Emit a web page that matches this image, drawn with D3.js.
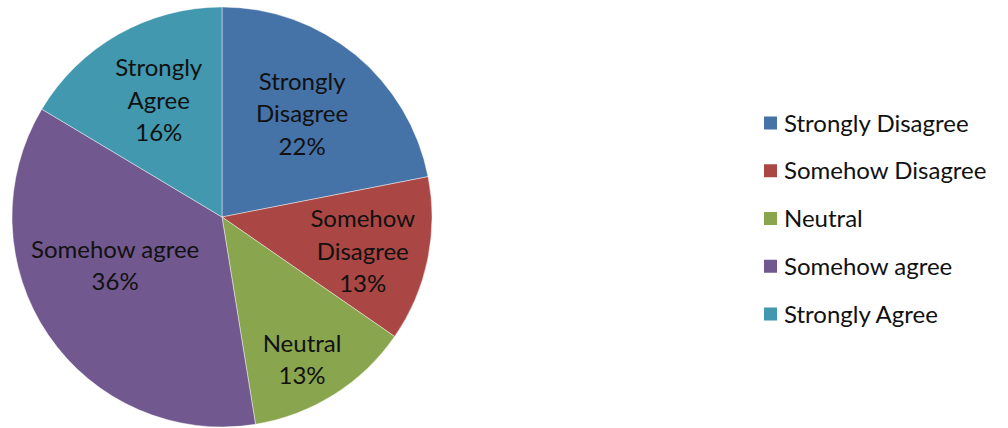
<!DOCTYPE html>
<html><head><meta charset="utf-8">
<script src="https://cdn.jsdelivr.net/npm/d3@7"></script>
<style>html,body{margin:0;padding:0;background:#fff;}svg{display:block;}</style>
</head><body>
<svg id="chart" width="1008" height="428"></svg>
<script>
// ---- data ----
const categories = ["Strongly Disagree", "Somehow Disagree", "Neutral", "Somehow agree", "Strongly Agree"];
const labelLines = [["Strongly", "Disagree"], ["Somehow", "Disagree"], ["Neutral"], ["Somehow agree"], ["Strongly", "Agree"]];
const values = [21.9, 12.7, 12.8, 36.1, 16.4];
const colors = ["#4572A7", "#AA4643", "#89A54E", "#71588F", "#4198AF"];

// ---- layout (not data) ----
const W = 1008, H = 428;
const cx = 222, cy = 217, R = 210;
const labelRadiusFrac = [0.62, 0.69, 0.78, 0.56, 0.63];
const labelAngleShift = [-1.5, 2, 3, 9.5, 1]; // degrees
const fontFam = "Lato, 'Open Sans', 'Liberation Sans', sans-serif";

const svg = d3.select("#chart");
const total = d3.sum(values);
const pct = d3.format(".0%");

const pie = d3.pie().value(d => d).sort(null);
const arcs = pie(values);
const arc = d3.arc().innerRadius(0).outerRadius(R);

const g = svg.append("g").attr("transform", `translate(${cx},${cy})`);
g.selectAll("path.slice").data(arcs).join("path")
  .attr("class", "slice")
  .attr("d", arc)
  .attr("fill", (d, i) => colors[i])
  .attr("stroke", "rgba(255,255,255,0.55)")
  .attr("stroke-width", 0.8);

// labels
const lineH = 32.5;
arcs.forEach((d, i) => {
  const mid = (d.startAngle + d.endAngle) / 2 + labelAngleShift[i] * Math.PI / 180;
  const r = R * labelRadiusFrac[i];
  const x = Math.sin(mid) * r, y = -Math.cos(mid) * r;
  const lines = labelLines[i].concat([pct(d.value / total)]);
  const t = g.append("text")
    .attr("text-anchor", "middle")
    .attr("font-family", fontFam)
    .attr("font-size", 24)
    .attr("fill", "#111");
  const y0 = y - (lines.length - 1) * lineH / 2 + 8;
  lines.forEach((s, k) => {
    t.append("tspan").attr("x", x).attr("y", y0 + k * lineH).text(s);
  });
});

// legend
const legY = d3.scalePoint().domain(categories).range([123, 314]);
const leg = svg.append("g");
const items = leg.selectAll("g").data(categories).join("g")
  .attr("transform", d => `translate(764,${legY(d)})`);
items.append("rect").attr("x", 0).attr("y", -6.5).attr("width", 13).attr("height", 13)
  .attr("fill", (d, i) => colors[i]);
items.append("text").attr("x", 20).attr("y", 8.5)
  .attr("font-family", fontFam).attr("font-size", 24).attr("fill", "#111")
  .text(d => d);
</script>
</body></html>
